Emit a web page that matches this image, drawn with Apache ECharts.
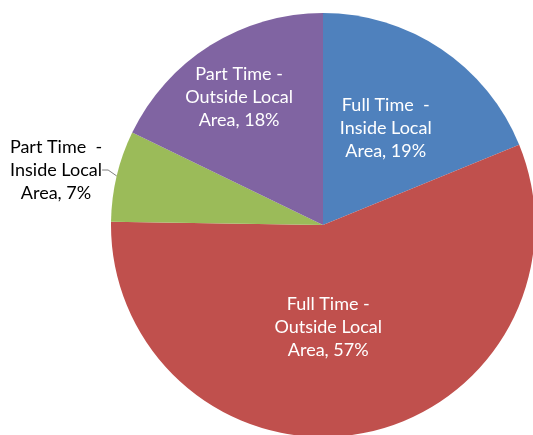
<!DOCTYPE html>
<html>
<head>
<meta charset="utf-8">
<script src="https://cdn.jsdelivr.net/npm/echarts@6/dist/echarts.min.js"></script>
<style>
html,body{margin:0;padding:0;background:#fff;}
#chart{width:533px;height:435px;}
</style>
</head>
<body>
<div id="chart"></div>
<script>
var categories = ["Full Time  -\nInside Local\nArea", "Full Time -\nOutside Local\nArea", "Part Time  -\nInside Local\nArea", "Part Time -\nOutside Local\nArea"];
var percentages = [19, 57, 7, 18];
var sliceColors = ["#4F81BD", "#C0504D", "#9BBB59", "#8064A2"];

var labelShift = [[2, -6], [-15, -5], null, [-26, -35]];

var data = categories.map(function (c, i) {
  var item = { name: c, value: percentages[i], itemStyle: { color: sliceColors[i] } };
  if (i === 2) {
    item.label = { position: 'outside', color: '#000' };
    item.labelLine = { show: true, length: 4, length2: 6, lineStyle: { color: '#7f7f7f', width: 1 } };
  }
  return item;
});

var chart = echarts.init(document.getElementById('chart'), null, { renderer: 'canvas' });
chart.setOption({
  animation: false,
  backgroundColor: '#fff',
  series: [{
    type: 'pie',
    center: [323, 225],
    radius: 212,
    startAngle: 90,
    clockwise: true,
    avoidLabelOverlap: false,
    data: data,
    itemStyle: { borderWidth: 0 },
    label: {
      show: true,
      position: 'inside',
      formatter: function (p) { return p.name + ', ' + p.value + '%'; },
      color: '#fff',
      fontFamily: 'Lato',
      fontSize: 18,
      lineHeight: 23,
      align: 'center'
    },
    labelLine: { show: false },
    labelLayout: function (params) {
      var i = params.dataIndex;
      if (i === 2) {
        return { x: 56, y: 170, align: 'center', verticalAlign: 'middle' };
      }
      var s = labelShift[i];
      return { dx: s[0], dy: s[1] };
    }
  }]
});
</script>
</body>
</html>
